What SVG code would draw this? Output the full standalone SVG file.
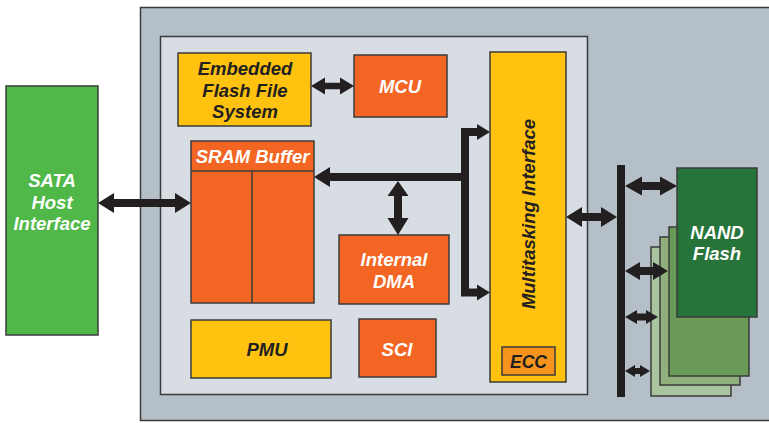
<svg xmlns="http://www.w3.org/2000/svg" width="769" height="423" viewBox="0 0 769 423">
<style>
.box{stroke:#3b3b3b;stroke-width:1.5}
.or{fill:#f26522}
.ye{fill:#fec20f}
.t{font-family:"Liberation Sans",Arial,sans-serif;font-weight:bold;font-style:italic;font-size:18.5px;text-anchor:middle}
.w{fill:#ffffff}
.d{fill:#231f20}
.arr{fill:#231f20}
.bus{fill:none;stroke:#231f20;stroke-width:8;stroke-linejoin:miter}
</style>
<rect width="769" height="423" fill="#ffffff"/>
<g id="controller">
<rect x="140.5" y="7.5" width="640" height="413" fill="#b4bfc8" class="box"/>
<rect x="160.5" y="36.5" width="427" height="358" fill="#d8dce3" class="box"/>
</g>
<g id="sata">
<rect x="6" y="86" width="92" height="249" fill="#50b848" class="box"/>
<text class="t w" x="52"><tspan x="52" y="187">SATA</tspan><tspan x="52" y="209">Host</tspan><tspan x="52" y="230">Interface</tspan></text>
</g>
<g id="effs">
<rect x="178" y="53" width="133" height="73" class="box ye"/>
<text class="t d"><tspan x="245" y="75">Embedded</tspan><tspan x="245" y="97">Flash File</tspan><tspan x="245" y="118">System</tspan></text>
</g>
<g id="mcu">
<rect x="354" y="55" width="93" height="62" class="box or"/>
<text class="t w" x="400" y="92.5">MCU</text>
</g>
<g id="sram">
<rect x="191" y="141" width="123" height="162" class="box or"/>
<line x1="191" y1="171" x2="314" y2="171" stroke="#3b3b3b" stroke-width="1.5"/>
<line x1="252" y1="171" x2="252" y2="303" stroke="#3b3b3b" stroke-width="1.5"/>
<text class="t w" x="252.5" y="162.5">SRAM Buffer</text>
</g>
<g id="dma">
<rect x="339" y="235" width="110" height="69" class="box or"/>
<text class="t w"><tspan x="394" y="265.5">Internal</tspan><tspan x="394" y="287.5">DMA</tspan></text>
</g>
<g id="pmu">
<rect x="191" y="320" width="140" height="58" class="box ye"/>
<text class="t d" x="267" y="355.5">PMU</text>
</g>
<g id="sci">
<rect x="359" y="319" width="77" height="58" class="box or"/>
<text class="t w" x="397" y="355.5">SCI</text>
</g>
<g id="multitasking">
<rect x="490" y="52" width="76" height="330" class="box ye"/>
<text class="t d" transform="translate(535,214) rotate(-90)" x="0" y="0">Multitasking Interface</text>
<rect x="502" y="347" width="53" height="28" fill="#f7941d" class="box"/>
<text class="t d" x="528.5" y="368" style="font-size:17.5px">ECC</text>
</g>
<g id="nand">
<rect x="651" y="247" width="80" height="149" fill="#a9c5a0" class="box"/>
<rect x="660" y="237" width="80" height="148" fill="#8fb07d" class="box"/>
<rect x="669" y="227" width="80" height="149" fill="#6a9a58" class="box"/>
<rect x="677" y="168" width="80" height="149" fill="#26743a" class="box"/>
<text class="t w"><tspan x="717" y="239">NAND</tspan><tspan x="717" y="260">Flash</tspan></text>
</g>
<g id="connectors">
<polygon class="arr" points="311,86 325,77.5 325,82.7 340,82.7 340,77.5 354,86 340,94.5 340,89.3 325,89.3 325,94.5"/>
<polygon class="arr" points="98,203 114,193 114,199 175,199 175,193 191,203 175,213 175,207 114,207 114,213"/>
<path class="bus" d="M478,132 H465 V292.5 H478"/>
<polygon class="arr" points="477,124 490,132 477,140"/>
<polygon class="arr" points="477,284.5 490,292.5 477,300.5"/>
<rect class="arr" x="329" y="173" width="136" height="8"/>
<polygon class="arr" points="330,167 314,177 330,187"/>
<polygon class="arr" points="398,181 408.5,196 402,196 402,218 408.5,218 398,235 387.5,218 394,218 394,196 387.5,196"/>
<polygon class="arr" points="566,217 582,207 582,213 601,213 601,207 617,217 601,227 601,221 582,221 582,227"/>
<rect class="arr" x="617" y="165" width="8" height="232"/>
<polygon class="arr" points="625,186 642,176.5 642,182 660,182 660,176.5 677,186 660,195.5 660,190 642,190 642,195.5"/>
<polygon class="arr" points="625,271 640,262 640,267 653,267 653,262 668,271 653,280 653,275 640,275 640,280"/>
<polygon class="arr" points="625,317 637,310 637,313.5 646,313.5 646,310 658,317 646,324 646,320.5 637,320.5 637,324"/>
<polygon class="arr" points="625,371 635,365 635,368 640,368 640,365 650,371 640,377 640,374 635,374 635,377"/>
</g>
</svg>
